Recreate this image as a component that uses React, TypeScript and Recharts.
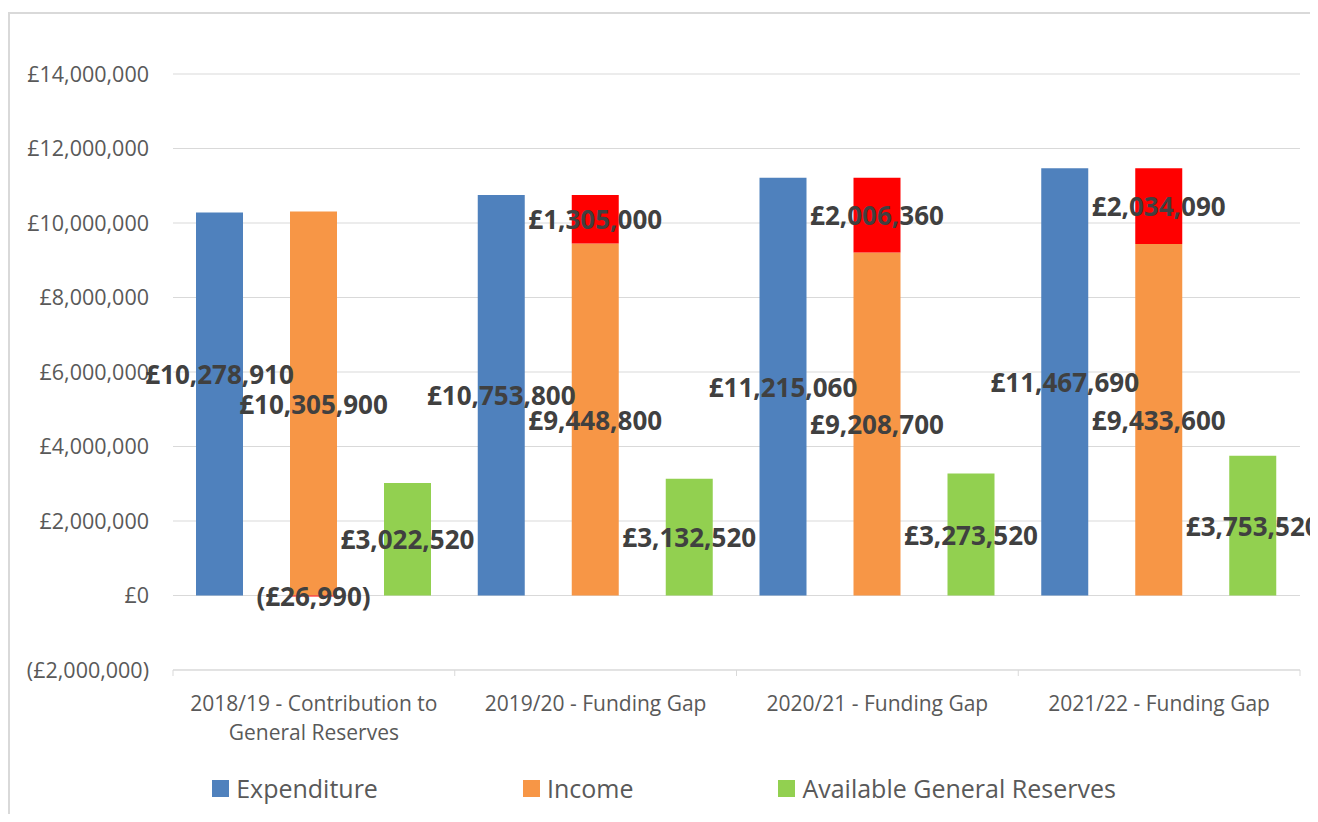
import React from "react";
import { Bar, BarChart, CartesianGrid, LabelList, Legend, XAxis, YAxis } from "recharts";

const categories = [
  "2018/19 - Contribution to General Reserves",
  "2019/20 - Funding Gap",
  "2020/21 - Funding Gap",
  "2021/22 - Funding Gap",
];
const categoryTickLines = [
  ["2018/19 - Contribution to", "General Reserves"],
  ["2019/20 - Funding Gap"],
  ["2020/21 - Funding Gap"],
  ["2021/22 - Funding Gap"],
];
const expenditure = [10278910, 10753800, 11215060, 11467690];
const income = [10305900, 9448800, 9208700, 9433600];
const fundingGap = [-26990, 1305000, 2006360, 2034090];
const reserves = [3022520, 3132520, 3273520, 3753520];
const yTicks = [-2000000, 0, 2000000, 4000000, 6000000, 8000000, 10000000, 12000000, 14000000];

const legendItems = [
  { label: "Expenditure", color: "#4f81bd" },
  { label: "Income", color: "#f79646" },
  { label: "Available General Reserves", color: "#92d050" },
];

// Excel moved the first expenditure label up a bit
const expenditureLabelShift = [-30, 0, 0, 0];

const data = categories.map((name, i) => ({
  name,
  expenditure: expenditure[i],
  income: income[i],
  gap: fundingGap[i],
  reserves: reserves[i],
}));

const FONT = "Open Sans";
const CHART_W = 1308;
const MARGIN = { top: 60, right: 18, bottom: 12, left: 0 };
const Y_AXIS_W = 163;

const money = (v: number) => {
  const s = "£" + Math.abs(v).toLocaleString("en-GB");
  return v < 0 ? `(${s})` : s;
};

const valueLabel = (shift: number[] = []) => (props: any) => {
  const { x, y, width, height, value, index } = props;
  const dy = shift[index] ?? 0;
  return (
    <text
      x={Number(x) + Number(width) / 2}
      y={Number(y) + Number(height) / 2 + dy}
      textAnchor="middle"
      dominantBaseline="central"
      fill="#404040"
      fontSize={26}
      fontWeight={700}
      fontFamily={FONT}
    >
      {money(Number(value))}
    </text>
  );
};

const CategoryTick = (props: any) => {
  const { x, y, payload, index } = props;
  const half =
    payload?.offset || (CHART_W - MARGIN.left - MARGIN.right - Y_AXIS_W) / categories.length / 2;
  const lines = categoryTickLines[index] ?? [payload.value];
  return (
    <g>
      <line x1={x - half} x2={x - half} y1={y} y2={y + 6} stroke="#d9d9d9" />
      {index === categories.length - 1 && (
        <line x1={x + half} x2={x + half} y1={y} y2={y + 6} stroke="#d9d9d9" />
      )}
      <text x={x} y={y + 41} textAnchor="middle" fill="#595959" fontSize={21} fontFamily={FONT}>
        {lines.map((l: string, i: number) => (
          <tspan key={i} x={x} dy={i === 0 ? 0 : 28.5}>
            {l}
          </tspan>
        ))}
      </text>
    </g>
  );
};

const LegendRow = () => (
  <div
    style={{
      display: "flex",
      justifyContent: "center",
      alignItems: "center",
      height: 36,
      fontFamily: FONT,
      fontSize: 25,
      color: "#595959",
    }}
  >
    {legendItems.map((item, i) => (
      <div key={item.label} style={{ display: "flex", alignItems: "center", marginLeft: i ? 145 : 0 }}>
        <span style={{ width: 17, height: 17, background: item.color, marginRight: 7 }} />
        <span>{item.label}</span>
      </div>
    ))}
  </div>
);

export default function App() {
  return (
    <div
      style={{
        position: "relative",
        top: 4,
        width: 1310,
        height: 806,
        boxSizing: "border-box",
        borderTop: "2px solid #d9d9d9",
        borderLeft: "2px solid #d9d9d9",
        fontFamily: FONT,
      }}
    >
      <BarChart
        width={CHART_W}
        height={804}
        data={data}
        stackOffset="sign"
        barSize={47}
        barGap={47}
        margin={MARGIN}
      >
        <CartesianGrid vertical={false} stroke="#d9d9d9" />
        <XAxis
          dataKey="name"
          height={100}
          axisLine={{ stroke: "#d9d9d9" }}
          tickLine={false}
          tickSize={0}
          tickMargin={0}
          tick={<CategoryTick />}
          interval={0}
        />
        <YAxis
          domain={[yTicks[0], yTicks[yTicks.length - 1]]}
          ticks={yTicks}
          width={Y_AXIS_W}
          axisLine={false}
          tickLine={false}
          tickSize={0}
          tickMargin={24}
          tickFormatter={money}
          tick={{ fill: "#595959", fontSize: 21.5, fontFamily: FONT }}
        />
        <Legend verticalAlign="bottom" content={<LegendRow />} wrapperStyle={{ left: 0, width: CHART_W }} />
        <Bar dataKey="expenditure" name="Expenditure" stackId="exp" fill="#4f81bd" isAnimationActive={false}>
          <LabelList dataKey="expenditure" content={valueLabel(expenditureLabelShift)} />
        </Bar>
        <Bar dataKey="income" name="Income" stackId="inc" fill="#f79646" isAnimationActive={false}>
          <LabelList dataKey="income" content={valueLabel()} />
        </Bar>
        <Bar dataKey="gap" name="Funding Gap" stackId="inc" fill="#ff0000" legendType="none" isAnimationActive={false}>
          <LabelList dataKey="gap" content={valueLabel()} />
        </Bar>
        <Bar dataKey="reserves" name="Available General Reserves" stackId="res" fill="#92d050" isAnimationActive={false}>
          <LabelList dataKey="reserves" content={valueLabel()} />
        </Bar>
      </BarChart>
    </div>
  );
}
